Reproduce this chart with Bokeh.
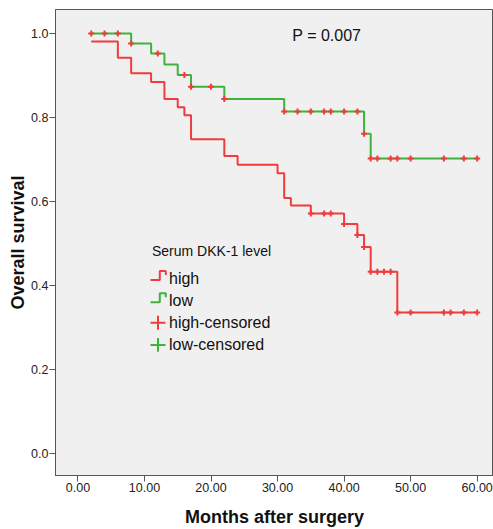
import numpy as np
from bokeh.plotting import figure
from bokeh.models import (Range1d, ColumnDataSource, Label, PolyAnnotation,
                          NumeralTickFormatter, FixedTicker)
from bokeh.embed import file_html
from bokeh.resources import INLINE

# ---- data ----
high_times = [2, 6, 8, 11, 13, 15, 16, 17, 22, 24, 30, 31, 32, 35, 40, 42, 43, 44, 48, 60]
high_surv = [0.981, 0.942, 0.905, 0.884, 0.844, 0.824, 0.805, 0.748, 0.708, 0.687,
             0.667, 0.608, 0.590, 0.571, 0.546, 0.520, 0.491, 0.432, 0.335, 0.335]
high_censored = [35, 37, 38, 40, 42, 43, 44, 45, 46, 47, 48, 50, 55, 56, 58, 60]

low_times = [2, 8, 11, 13, 15, 17, 22, 31, 43, 44, 60]
low_surv = [1.0, 0.976, 0.952, 0.926, 0.901, 0.873, 0.844, 0.814, 0.761, 0.702, 0.702]
low_censored = [2, 4, 6, 8, 12, 16, 17, 20, 22, 31, 33, 35, 37, 38, 40, 42, 43,
                44, 45, 47, 48, 50, 55, 58, 60]

x_ticks = [0, 10, 20, 30, 40, 50, 60]
y_ticks = [0.0, 0.2, 0.4, 0.6, 0.8, 1.0]
legend_title = "Serum DKK-1 level"
legend_labels = ["high", "low", "high-censored", "low-censored"]
p_value_text = "P = 0.007"

RED = "#f03c3c"
GREEN = "#3cb43c"
FONT = "Liberation Sans"
TXT = "#111111"

# ---- layout ----
W, H = 493, 529
FL, FT, FB = 55, 9, 479          # frame left / top / bottom (page px)
X0, XS = -3.37, 6.654            # data x at frame left, px per month
Y_TOP, YS = 1.057, 423.3         # data y at frame top, px per unit


def px2x(px):
    return X0 + (px - FL) / XS


def px2y(py):
    return Y_TOP - (py - FT) / YS


def surv_at(times, surv, tc):
    t = np.asarray(times, dtype=float)
    s = np.asarray(surv, dtype=float)
    idx = np.searchsorted(t, np.asarray(tc, dtype=float), side="right") - 1
    return s[idx]


p = figure(width=W, height=H, output_backend="svg", toolbar_location=None,
           x_range=Range1d(px2x(FL), px2x(W)), y_range=Range1d(px2y(FB), px2y(FT)),
           min_border_left=FL, min_border_right=0, min_border_top=FT,
           min_border_bottom=H - FB)
p.background_fill_color = "#f0f0f0"
p.border_fill_color = "white"
p.outline_line_color = "#555555"
p.grid.visible = False

p.step(high_times, high_surv, mode="after", line_color=RED, line_width=2)
p.step(low_times, low_surv, mode="after", line_color=GREEN, line_width=2)

hc = ColumnDataSource(dict(x=high_censored, y=surv_at(high_times, high_surv, high_censored)))
lc = ColumnDataSource(dict(x=low_censored, y=surv_at(low_times, low_surv, low_censored)))
p.scatter("x", "y", source=hc, marker="cross", size=6, line_color=RED, line_width=2)
p.scatter("x", "y", source=lc, marker="cross", size=6, line_color=RED, line_width=2)

# ---- legend (drawn manually to get SPSS-like step icons) ----
p.add_layout(Label(x=px2x(151.5), y=px2y(252.7), text=legend_title, text_font=FONT,
                   text_font_size="14px", text_baseline="middle", text_color=TXT))
item_y = [280.0, 302.5, 325.0, 347.3]
icon_colors = [RED, GREEN, RED, GREEN]
for i, (lab, yc, col) in enumerate(zip(legend_labels, item_y, icon_colors)):
    p.add_layout(Label(x=px2x(168.5), y=px2y(yc), text=lab, text_font=FONT,
                       text_font_size="16px", text_baseline="middle", text_color=TXT))
    if i < 2:
        pts = [(150, yc + 1.7), (159.3, yc + 1.7), (159.3, yc - 7.3),
               (165.3, yc - 7.3), (165.3, yc - 3.3)]
        path = pts + pts[-2:0:-1]
        p.add_layout(PolyAnnotation(xs=[px2x(a) for a, b in path],
                                    ys=[px2y(b) for a, b in path],
                                    fill_alpha=0, line_color=col, line_alpha=1.0,
                                    line_width=2))
    else:
        for seg in ([(150, yc), (165, yc)], [(157.5, yc - 7), (157.5, yc + 7)]):
            p.add_layout(PolyAnnotation(xs=[px2x(a) for a, b in seg],
                                        ys=[px2y(b) for a, b in seg],
                                        fill_alpha=0, line_color=col, line_alpha=1.0,
                                        line_width=2))

p.add_layout(Label(x=px2x(291.8), y=px2y(35), text=p_value_text, text_font=FONT,
                   text_font_size="16px", text_baseline="middle", text_color=TXT))

for ax in (p.xaxis[0], p.yaxis[0]):
    ax.axis_line_color = "#555555"
    ax.major_tick_line_color = "#555555"
    ax.major_tick_out = 6
    ax.major_tick_in = 0
    ax.minor_tick_line_color = None
    ax.major_label_standoff = 1
    ax.major_label_text_font = FONT
    ax.major_label_text_font_size = "12.5px"
    ax.major_label_text_color = "#222222"
    ax.axis_label_text_font = FONT
    ax.axis_label_text_font_size = "18px"
    ax.axis_label_text_font_style = "bold"
    ax.axis_label_text_color = TXT

p.xaxis[0].ticker = FixedTicker(ticks=x_ticks)
p.xaxis[0].formatter = NumeralTickFormatter(format="0.00")
p.xaxis[0].axis_label = "Months after surgery"
p.xaxis[0].axis_label_standoff = 12
p.yaxis[0].ticker = FixedTicker(ticks=y_ticks)
p.yaxis[0].formatter = NumeralTickFormatter(format="0.0")
p.yaxis[0].axis_label = "Overall survival"
p.yaxis[0].axis_label_standoff = 0

open("out.html", "w").write(file_html(p, INLINE))
